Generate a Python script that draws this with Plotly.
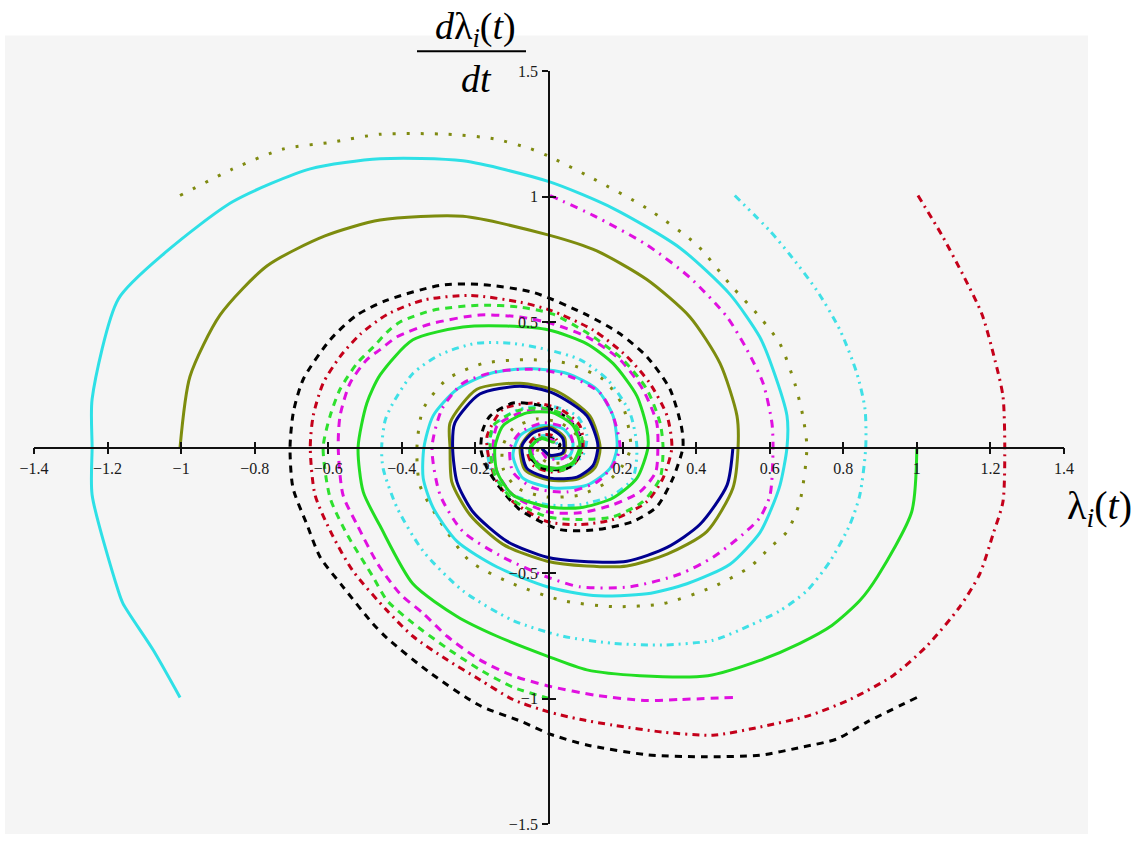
import plotly.graph_objects as go

# ---------------- data ----------------
x_tick_vals = [-1.4, -1.2, -1.0, -0.8, -0.6, -0.4, -0.2, 0.2, 0.4, 0.6, 0.8, 1.0, 1.2, 1.4]
x_tick_text = ["\u22121.4", "\u22121.2", "\u22121", "\u22120.8", "\u22120.6", "\u22120.4", "\u22120.2",
               "0.2", "0.4", "0.6", "0.8", "1", "1.2", "1.4"]
y_tick_vals = [-1.5, -1.0, -0.5, 0.5, 1.0, 1.5]
y_tick_text = ["\u22121.5", "\u22121", "\u22120.5", "0.5", "1", "1.5"]

# trajectory starting at (-1, 1)
olive_dotted = [(-1.003, 1.004), (-0.859, 1.110), (-0.723, 1.189), (-0.587, 1.217), (-0.459, 1.248),
                (-0.277, 1.248), (-0.150, 1.230), (-0.050, 1.190), (0.0, 1.160), (0.120, 1.071),
                (0.266, 0.953), (0.402, 0.807), (0.492, 0.650), (0.573, 0.520), (0.628, 0.413),
                (0.668, 0.256), (0.690, 0.126), (0.701, 0.0), (0.682, -0.216), (0.647, -0.335),
                (0.601, -0.398), (0.546, -0.476), (0.446, -0.555), (0.310, -0.622), (0.174, -0.634),
                (0.038, -0.610), (-0.098, -0.543), (-0.215, -0.453), (-0.296, -0.295), (-0.351, -0.150),
                (-0.359, 0.0), (-0.342, 0.153), (-0.277, 0.272), (-0.179, 0.335), (-0.052, 0.350),
                (0.049, 0.335), (0.147, 0.272), (0.201, 0.165), (0.222, 0.0), (0.201, -0.070),
                (0.158, -0.138), (0.084, -0.189), (-0.005, -0.197), (-0.087, -0.161), (-0.125, -0.083),
                (-0.125, 0.008), (-0.098, 0.075), (-0.033, 0.114), (0.030, 0.098), (0.076, 0.047),
                (0.076, -0.020), (0.038, -0.059), (-0.005, -0.059), (-0.033, -0.020), (-0.016, 0.020)]

# trajectory starting at (-1, -1)
cyan_solid = [(-1.003, -0.996), (-1.076, -0.807), (-1.158, -0.622), (-1.171, -0.571), (-1.242, -0.189),
              (-1.242, 0.0), (-1.242, 0.193), (-1.171, 0.591), (-1.038, 0.783), (-0.859, 0.980),
              (-0.649, 1.110), (-0.459, 1.150), (-0.234, 1.142), (0.0, 1.059), (0.174, 0.953),
              (0.356, 0.795), (0.492, 0.610), (0.573, 0.440), (0.609, 0.311), (0.647, 0.126),
              (0.647, 0.0), (0.628, -0.150), (0.601, -0.256), (0.573, -0.340), (0.492, -0.465),
              (0.375, -0.543), (0.266, -0.583), (0.120, -0.590), (-0.005, -0.555), (-0.141, -0.476),
              (-0.250, -0.374), (-0.315, -0.240), (-0.342, -0.122), (-0.340, 0.0), (-0.315, 0.126),
              (-0.250, 0.232), (-0.160, 0.295), (-0.052, 0.315), (0.049, 0.295), (0.130, 0.232),
              (0.174, 0.126), (0.185, 0.0), (0.166, -0.083), (0.103, -0.150), (0.011, -0.161),
              (-0.071, -0.122), (-0.098, -0.031), (-0.079, 0.047), (-0.024, 0.087), (0.038, 0.075),
              (0.065, 0.020), (0.057, -0.031), (0.011, -0.043), (-0.016, -0.012)]

# trajectory starting at (-1, 0)
olive_solid = [(-1.003, 0.0), (-0.976, 0.283), (-0.894, 0.528), (-0.766, 0.724), (-0.609, 0.843),
               (-0.459, 0.906), (-0.234, 0.921), (0.0, 0.846), (0.130, 0.783), (0.266, 0.669),
               (0.383, 0.520), (0.465, 0.335), (0.511, 0.126), (0.514, 0.0), (0.500, -0.161),
               (0.429, -0.335), (0.321, -0.425), (0.212, -0.472), (0.103, -0.472), (-0.005, -0.453),
               (-0.125, -0.386), (-0.215, -0.268), (-0.264, -0.138), (-0.269, 0.0), (-0.269, 0.098),
               (-0.196, 0.232), (-0.079, 0.256), (0.022, 0.224), (0.111, 0.126), (0.139, 0.0),
               (0.125, -0.080), (0.080, -0.125), (0.0, -0.130), (-0.065, -0.090), (-0.078, 0.0),
               (-0.045, 0.065), (0.005, 0.080), (0.042, 0.040), (0.042, -0.020), (0.005, -0.035),
               (-0.020, -0.005)]

# trajectory starting at (0, 1)
magenta_dashdot = [(0.003, 1.004), (0.120, 0.925), (0.266, 0.807), (0.383, 0.677), (0.484, 0.520),
                   (0.538, 0.390), (0.582, 0.256), (0.606, 0.098), (0.609, 0.0), (0.601, -0.189),
                   (0.573, -0.280), (0.527, -0.346), (0.446, -0.437), (0.356, -0.504), (0.220, -0.555),
                   (0.084, -0.555), (-0.005, -0.516), (-0.125, -0.437), (-0.234, -0.335), (-0.296, -0.189),
                   (-0.318, 0.0), (-0.291, 0.153), (-0.234, 0.256), (-0.141, 0.303), (-0.033, 0.311),
                   (0.057, 0.283), (0.139, 0.217), (0.174, 0.126), (0.193, 0.0), (0.174, -0.071),
                   (0.130, -0.138), (0.049, -0.177), (-0.043, -0.161), (-0.098, -0.098), (-0.106, -0.004),
                   (-0.079, 0.059), (-0.016, 0.098), (0.049, 0.075), (0.065, 0.008), (0.038, -0.043),
                   (-0.005, -0.043), (-0.024, -0.004)]

# trajectory starting at (0.5, 1)
cyan_dashdot = [(0.505, 1.004), (0.601, 0.862), (0.655, 0.768), (0.728, 0.626), (0.791, 0.468),
                (0.837, 0.295), (0.859, 0.154), (0.861, 0.0), (0.845, -0.189), (0.818, -0.307),
                (0.764, -0.453), (0.701, -0.571), (0.628, -0.650), (0.546, -0.709), (0.446, -0.768),
                (0.310, -0.787), (0.174, -0.780), (0.038, -0.752), (-0.098, -0.689), (-0.234, -0.571),
                (-0.342, -0.413), (-0.413, -0.240), (-0.451, -0.083), (-0.455, 0.0), (-0.445, 0.110),
                (-0.424, 0.177), (-0.370, 0.295), (-0.296, 0.370), (-0.200, 0.415), (-0.100, 0.415),
                (-0.005, 0.390), (0.084, 0.350), (0.158, 0.272), (0.220, 0.138), (0.239, 0.0),
                (0.228, -0.122), (0.174, -0.189), (0.084, -0.228), (-0.005, -0.228), (-0.098, -0.189),
                (-0.152, -0.110), (-0.168, 0.0), (-0.141, 0.098), (-0.079, 0.153), (0.003, 0.165),
                (0.076, 0.126), (0.103, 0.047), (0.092, -0.031), (0.049, -0.083), (-0.016, -0.083),
                (-0.052, -0.031), (-0.043, 0.035), (0.003, 0.047), (0.025, 0.008)]

# trajectory starting at (1, 1)
red_dashdot = [(1.003, 1.004), (1.068, 0.846), (1.125, 0.689), (1.177, 0.531), (1.212, 0.350),
               (1.234, 0.205), (1.239, 0.0), (1.234, -0.216), (1.207, -0.346), (1.171, -0.504),
               (1.117, -0.634), (1.027, -0.791), (0.935, -0.909), (0.818, -1.004), (0.709, -1.067),
               (0.573, -1.114), (0.446, -1.146), (0.310, -1.134), (0.174, -1.106), (0.084, -1.083),
               (0.003, -1.055), (-0.098, -1.004), (-0.188, -0.925), (-0.277, -0.846), (-0.370, -0.752),
               (-0.440, -0.650), (-0.533, -0.492), (-0.590, -0.346), (-0.636, -0.189), (-0.649, 0.0),
               (-0.641, 0.126), (-0.614, 0.256), (-0.568, 0.362), (-0.514, 0.450), (-0.440, 0.530),
               (-0.342, 0.587), (-0.215, 0.606), (-0.079, 0.579), (0.003, 0.547), (0.120, 0.468),
               (0.212, 0.362), (0.274, 0.256), (0.321, 0.126), (0.334, 0.0), (0.310, -0.122),
               (0.266, -0.216), (0.174, -0.287), (0.084, -0.307), (-0.005, -0.295), (-0.098, -0.216),
               (-0.141, -0.138), (-0.165, -0.031), (-0.168, 0.047), (-0.125, 0.153), (-0.043, 0.177),
               (0.030, 0.153), (0.084, 0.087), (0.092, -0.004), (0.065, -0.071), (0.011, -0.098),
               (-0.043, -0.071), (-0.060, -0.004), (-0.033, 0.047), (0.011, 0.047), (0.030, 0.008)]

# trajectory starting at (1, -1)
black_dashed = [(1.000, -0.996), (0.864, -1.094), (0.783, -1.161), (0.690, -1.193), (0.573, -1.226),
                (0.420, -1.232), (0.266, -1.224), (0.103, -1.185), (0.003, -1.142), (-0.071, -1.094),
                (-0.188, -1.028), (-0.323, -0.898), (-0.440, -0.760), (-0.480, -0.700), (-0.560, -0.555),
                (-0.622, -0.437), (-0.658, -0.307), (-0.696, -0.161), (-0.704, 0.0), (-0.695, 0.140),
                (-0.668, 0.272), (-0.595, 0.429), (-0.522, 0.528), (-0.440, 0.587), (-0.296, 0.646),
                (-0.188, 0.650), (-0.043, 0.618), (0.103, 0.528), (0.193, 0.453), (0.266, 0.362),
                (0.329, 0.232), (0.361, 0.075), (0.364, 0.0), (0.337, -0.122), (0.293, -0.236),
                (0.228, -0.295), (0.130, -0.327), (0.030, -0.327), (-0.079, -0.248), (-0.133, -0.161),
                (-0.168, -0.083), (-0.185, -0.010), (-0.180, 0.070), (-0.160, 0.126), (-0.098, 0.177),
                (-0.016, 0.165), (0.049, 0.118), (0.084, 0.047), (0.084, -0.031), (0.049, -0.083),
                (-0.016, -0.083), (-0.050, -0.040), (-0.045, 0.020), (0.000, 0.040), (0.030, 0.010),
                (0.015, -0.020)]

# trajectory starting at (0.5, -1)
magenta_dashed = [(0.500, -0.996), (0.356, -1.004), (0.266, -1.008), (0.130, -0.988), (-0.005, -0.949),
                  (-0.098, -0.909), (-0.188, -0.846), (-0.277, -0.752), (-0.342, -0.661), (-0.405, -0.583),
                  (-0.465, -0.465), (-0.522, -0.307), (-0.560, -0.189), (-0.573, 0.0), (-0.568, 0.126),
                  (-0.541, 0.256), (-0.495, 0.350), (-0.459, 0.390), (-0.413, 0.441), (-0.323, 0.492),
                  (-0.188, 0.528), (-0.079, 0.520), (0.011, 0.492), (0.103, 0.441), (0.193, 0.350),
                  (0.255, 0.232), (0.293, 0.098), (0.296, 0.0), (0.290, -0.098), (0.247, -0.177),
                  (0.174, -0.228), (0.084, -0.260), (-0.005, -0.256), (-0.098, -0.189), (-0.141, -0.098),
                  (-0.152, 0.0), (-0.141, 0.087), (-0.079, 0.138), (-0.005, 0.153), (0.057, 0.114),
                  (0.084, 0.035), (0.076, -0.043), (0.030, -0.083), (-0.024, -0.071), (-0.046, -0.020),
                  (-0.024, 0.035), (0.011, 0.028), (0.016, -0.004)]

# trajectory starting at (0, -1)
green_dashed = [(0.0, -1.0), (-0.098, -0.955), (-0.188, -0.885), (-0.277, -0.800), (-0.370, -0.700),
                (-0.440, -0.610), (-0.478, -0.516), (-0.549, -0.346), (-0.595, -0.201), (-0.614, 0.0),
                (-0.595, 0.126), (-0.568, 0.232), (-0.522, 0.335), (-0.478, 0.400), (-0.440, 0.460),
                (-0.405, 0.500), (-0.315, 0.547), (-0.188, 0.567), (-0.079, 0.559), (0.011, 0.531),
                (0.120, 0.441), (0.201, 0.350), (0.266, 0.232), (0.302, 0.098), (0.310, 0.0),
                (0.302, -0.122), (0.255, -0.216), (0.174, -0.276), (0.084, -0.287), (-0.005, -0.276),
                (-0.098, -0.209), (-0.147, -0.110), (-0.160, 0.0), (-0.152, 0.087), (-0.087, 0.146),
                (-0.016, 0.157), (0.057, 0.118), (0.090, 0.035), (0.079, -0.043), (0.035, -0.091),
                (-0.030, -0.079), (-0.052, -0.012), (-0.024, 0.039), (0.016, 0.020)]

# trajectory starting at (1, 0)
green_solid = [(1.000, 0.0), (0.986, -0.256), (0.894, -0.512), (0.845, -0.610), (0.769, -0.709),
               (0.682, -0.780), (0.573, -0.848), (0.432, -0.909), (0.247, -0.909), (0.103, -0.886),
               (-0.005, -0.831), (-0.141, -0.752), (-0.250, -0.673), (-0.370, -0.543), (-0.459, -0.313),
               (-0.505, -0.177), (-0.519, 0.0), (-0.495, 0.177), (-0.459, 0.289), (-0.370, 0.429),
               (-0.234, 0.480), (-0.114, 0.484), (0.0, 0.468), (0.103, 0.413), (0.174, 0.335),
               (0.239, 0.205), (0.266, 0.075), (0.269, 0.0), (0.239, -0.122), (0.174, -0.201),
               (0.084, -0.240), (-0.005, -0.236), (-0.098, -0.189), (-0.141, -0.098), (-0.147, 0.0),
               (-0.125, 0.087), (-0.060, 0.138), (0.011, 0.138), (0.065, 0.087), (0.084, 0.008),
               (0.065, -0.059), (0.022, -0.083), (-0.033, -0.063), (-0.052, -0.004), (-0.024, 0.035),
               (0.011, 0.020)]

# trajectory starting at (0.5, 0)
navy_solid = [(0.500, 0.0), (0.484, -0.150), (0.410, -0.307), (0.321, -0.398), (0.212, -0.453),
              (0.084, -0.453), (-0.005, -0.437), (-0.114, -0.374), (-0.207, -0.256), (-0.250, -0.138),
              (-0.262, 0.0), (-0.256, 0.098), (-0.188, 0.213), (-0.079, 0.244), (0.011, 0.217),
              (0.103, 0.126), (0.133, 0.008), (0.120, -0.071), (0.076, -0.118), (0.003, -0.122),
              (-0.060, -0.083), (-0.073, 0.008), (-0.043, 0.059), (0.003, 0.075), (0.038, 0.035),
              (0.038, -0.020), (0.003, -0.031), (-0.019, -0.004)]

# ---------------- layout geometry ----------------
W, H = 1142, 843
ML, MR, MT, MB = 34, 1142 - 1064, 71, 843 - 833
PW, PH = W - ML - MR, H - MT - MB


def px(xw):
    """window pixel x -> paper fraction"""
    return (xw - ML) / PW


def py(yw):
    """window pixel y -> paper fraction"""
    return (H - MB - yw) / PH


series = [
    (olive_dotted, "#7f8a10", 3.0, "3px,11px"),
    (cyan_solid, "#2ee0e6", 3.0, "solid"),
    (olive_solid, "#7d8c0e", 3.0, "solid"),
    (magenta_dashdot, "#e010e0", 3.0, "8px,6px,2px,6px"),
    (cyan_dashdot, "#3fe0e6", 3.0, "7px,5px,2px,5px,2px,5px"),
    (red_dashdot, "#c4001a", 3.0, "7px,5px,2px,5px"),
    (black_dashed, "#000000", 3.0, "7px,6px"),
    (magenta_dashed, "#e010e0", 3.0, "8px,6px"),
    (green_dashed, "#2ee02e", 3.0, "7px,6px"),
    (green_solid, "#22dd22", 3.0, "solid"),
    (navy_solid, "#000090", 3.0, "solid"),
]

fig = go.Figure()
for pts, color, width, dash in series:
    fig.add_trace(go.Scatter(
        x=[p[0] for p in pts], y=[p[1] for p in pts], mode="lines",
        line=dict(color=color, width=width, dash=dash, shape="spline", smoothing=0.7),
        showlegend=False, hoverinfo="skip"))

# empty trace so the second (inner-tick) axes are drawn
fig.add_trace(go.Scatter(x=[], y=[], xaxis="x2", yaxis="y2", showlegend=False))

tick_font = dict(family="Liberation Serif", size=16, color="#1a1a1a")

fig.update_layout(
    width=W, height=H,
    margin=dict(l=ML, r=MR, t=MT, b=MB),
    paper_bgcolor="white",
    plot_bgcolor="rgba(0,0,0,0)",
    showlegend=False,
    xaxis=dict(range=[-1.4, 1.4], anchor="free", position=0.5, showline=True,
               linecolor="#111", linewidth=1.8, ticks="outside", ticklen=6, tickwidth=1.5,
               tickcolor="#111", tickvals=x_tick_vals, ticktext=x_tick_text, tickfont=tick_font,
               showgrid=False, zeroline=False, fixedrange=True),
    yaxis=dict(range=[-1.5, 1.5], anchor="free", position=0.5, side="left", showline=True,
               linecolor="#111", linewidth=1.8, ticks="outside", ticklen=6, tickwidth=1.5,
               tickcolor="#111", tickvals=y_tick_vals, ticktext=y_tick_text, tickfont=tick_font,
               showgrid=False, zeroline=False, fixedrange=True, ticklabelstandoff=1),
    xaxis2=dict(range=[-1.4, 1.4], overlaying="x", anchor="free", position=0.5, showline=False,
                ticks="inside", ticklen=6, tickwidth=1.5, tickcolor="#111", tickvals=x_tick_vals,
                showticklabels=False, showgrid=False, zeroline=False, fixedrange=True),
    yaxis2=dict(range=[-1.5, 1.5], overlaying="y", anchor="free", position=0.5, side="left",
                showline=False, ticks="inside", ticklen=6, tickwidth=1.5, tickcolor="#111",
                tickvals=y_tick_vals, showticklabels=False, showgrid=False, zeroline=False,
                fixedrange=True),
    shapes=[
        dict(type="rect", xref="paper", yref="paper", x0=px(5), x1=px(1088), y0=py(843), y1=py(35),
             fillcolor="#f5f5f5", line=dict(width=0), layer="below"),
        dict(type="line", xref="paper", yref="paper", x0=px(417), x1=px(526), y0=py(51), y1=py(51),
             line=dict(color="black", width=2)),
    ],
    annotations=[
        dict(xref="paper", yref="paper", x=px(475), y=py(29), xanchor="center", yanchor="middle",
             text="<i>d</i>\u03bb<sub><i>i</i></sub>(<i>t</i>)", showarrow=False,
             font=dict(family="Liberation Serif", size=38, color="black")),
        dict(xref="paper", yref="paper", x=px(476), y=py(79), xanchor="center", yanchor="middle",
             text="<i>dt</i>", showarrow=False,
             font=dict(family="Liberation Serif", size=38, color="black")),
        dict(xref="paper", yref="paper", x=px(1099), y=py(513), xanchor="center", yanchor="middle",
             text="\u03bb<sub><i>i</i></sub>(<i>t</i>)", showarrow=False,
             font=dict(family="Liberation Serif", size=40, color="black")),
    ],
)

# remove the default 8px page margin so the figure fills the browser window exactly
fig.write_html("out.html", config={"displayModeBar": False},
               post_script="document.body.style.margin='0';")
